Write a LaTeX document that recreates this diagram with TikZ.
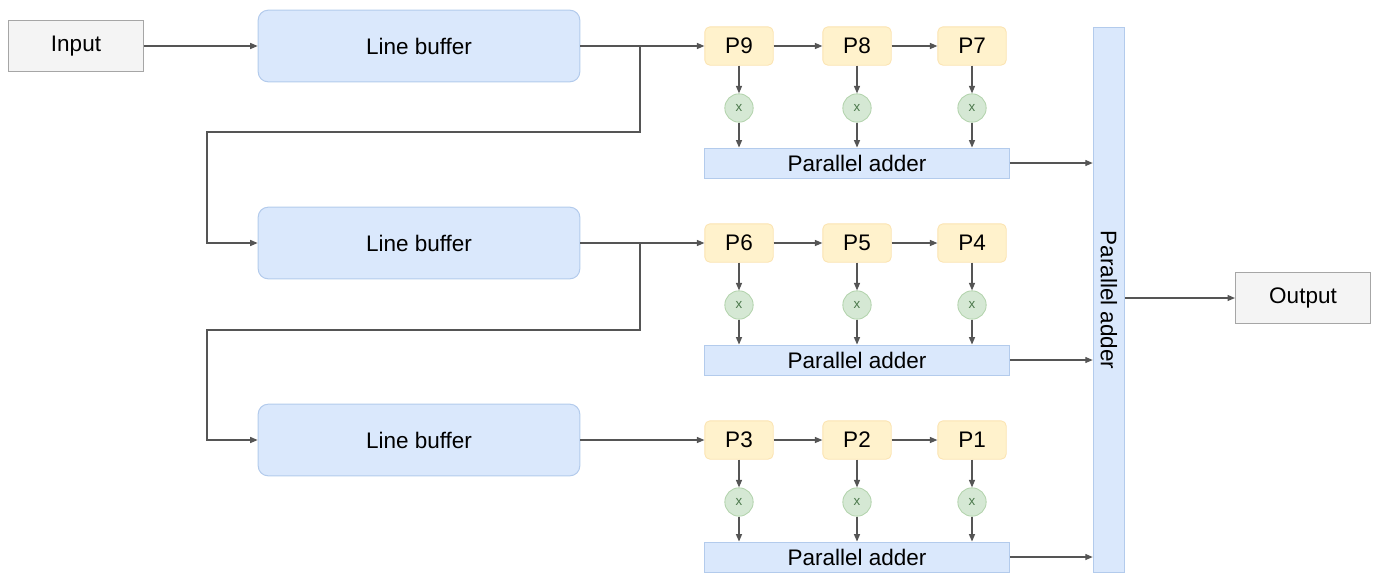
\documentclass[tikz,border=0pt]{standalone}
\usepackage{fontspec}
\setmainfont{Liberation Sans}
\usetikzlibrary{arrows.meta, calc, positioning}
\definecolor{boxgray}{HTML}{F4F4F4}
\definecolor{linegray}{HTML}{A6A6A6}
\definecolor{bufblue}{HTML}{DAE8FC}
\definecolor{bufedge}{HTML}{B3CBEC}
\definecolor{pixyellow}{HTML}{FFF2CC}
\definecolor{pixedge}{HTML}{FBE3B0}
\definecolor{mulgreen}{HTML}{D5E8D4}
\definecolor{muledge}{HTML}{B2D3AC}
\definecolor{wiregray}{HTML}{555555}
\begin{document}
\begin{tikzpicture}[
      x=0.6pt,
      y=-0.6pt,
      font=\fontsize{13.5}{16}\selectfont,
      iobox/.style={draw=linegray, fill=boxgray, line width=0.6pt, minimum width=81pt, minimum height=31pt},
      bufbox/.style={draw=bufedge, fill=bufblue, rounded corners=6pt, line width=0.6pt, minimum width=193pt, minimum height=43pt},
      pixbox/.style={draw=pixedge, fill=pixyellow, rounded corners=3pt, line width=0.5pt, minimum width=41pt, minimum height=23pt},
      mulnode/.style={circle, draw=muledge, fill=mulgreen, line width=0.5pt, minimum size=17pt, inner sep=0pt, text=green!25!black!70, font=\fontsize{8}{9}\selectfont},
      adderbox/.style={draw=bufedge, fill=bufblue, line width=0.5pt, minimum width=183pt, minimum height=18pt},
      arr/.style={-{Triangle[length=4.5pt, width=3.6pt]}, line width=0.8pt, draw=wiregray}
  ]
    \useasboundingbox (0,0) rectangle (1378,574);
    \node[iobox] (in) at (76,46) {Input};
    \node[draw=bufedge, fill=bufblue, line width=0.5pt, minimum width=19pt, minimum height=327pt]
      (sum) at (1109,300) {\rotatebox{-90}{Parallel adder}};
    \node[iobox] (out) at (1303,298) {Output};
    \foreach \r/\y/\a/\b/\c in {1/46/9/8/7, 2/243/6/5/4, 3/440/3/2/1} {
      \node[bufbox] (lb\r) at (419,\y) {Line buffer};
      \node[pixbox] (pa\r) at (739,\y) {P\a};
      \node[pixbox] (pb\r) at (857,\y) {P\b};
      \node[pixbox] (pc\r) at (972,\y) {P\c};
      \node[adderbox] (add\r) at (857,\y+117) {Parallel adder};
      \draw[arr] (lb\r) -- (pa\r);
      \draw[arr] (pa\r) -- (pb\r);
      \draw[arr] (pb\r) -- (pc\r);
      \foreach \p in {pa,pb,pc} {
        \node[mulnode] (m\p\r) at ($(\p\r)+(0,62)$) {x};
        \draw[arr] (\p\r) -- (m\p\r);
        \draw[arr] (m\p\r) -- (m\p\r |- add\r.north);
      }
      \draw[arr] (add\r.east) -- (add\r.east -| sum.west);
    }
    \draw[arr] (in) -- (lb1);
    % taps down to the next line buffer
    \coordinate (br1) at (640,46);
    \coordinate (tu1) at (207,132);
    \coordinate (br2) at (640,243);
    \coordinate (tu2) at (207,330);
    \draw[arr] (br1) |- (tu1) |- (lb2.west);
    \draw[arr] (br2) |- (tu2) |- (lb3.west);
    \draw[arr] (sum.east |- out.west) -- (out.west);
  \end{tikzpicture}
\end{document}
